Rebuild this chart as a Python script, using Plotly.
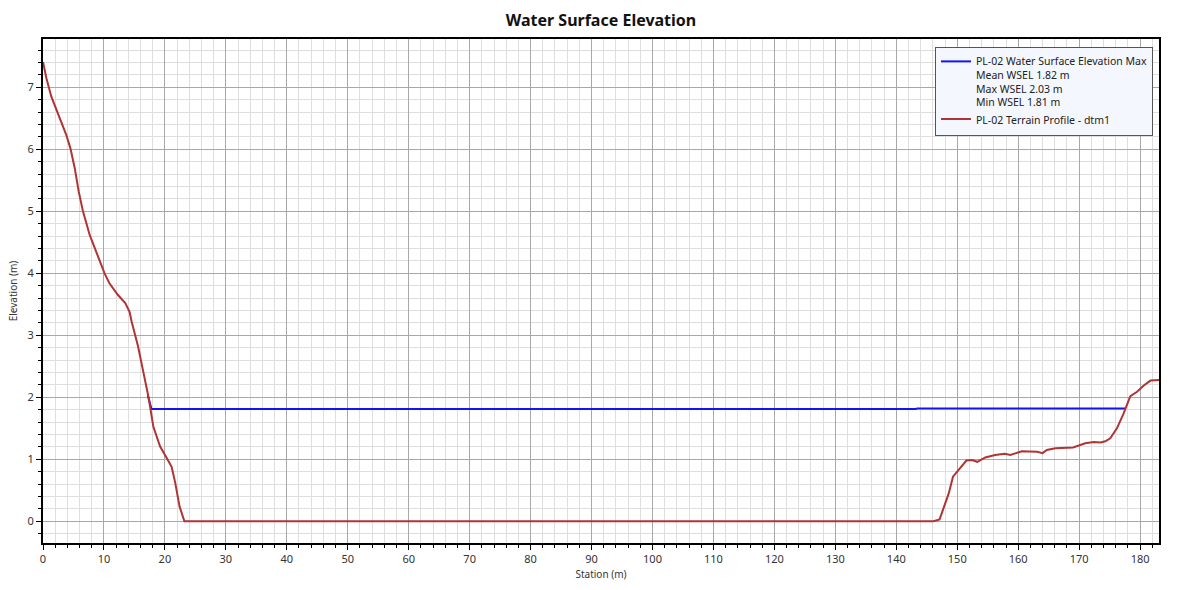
import plotly.graph_objects as go

# Terrain profile (station m, elevation m)
terrain_x = [0, 0.55, 1.37, 2.19, 3.0, 3.83, 4.49, 5.2, 5.86, 6.56, 7.66, 9.0, 10.1, 10.9,
             11.5, 12.3, 13.5, 14.2, 14.55, 15.6, 16.5, 17.3, 18.1, 19.2, 20.3, 21.1,
             21.7, 22.4, 23.2,
             146.1, 147.1, 148.0, 148.6, 149.3, 150.2,
             151.5, 152.4, 153.3, 154.6, 156.2, 157.8, 158.7, 160.6, 161.9, 163.1, 164.0,
             164.7, 166.1, 167.4, 169.0, 171.0, 172.4, 173.5, 174.3, 175.1, 176.2, 177.3,
             178.4, 179.5, 180.6, 181.7, 183.1]
terrain_y = [7.41, 7.15, 6.85, 6.64, 6.42, 6.23, 6.02, 5.70, 5.32, 5.00, 4.62, 4.27, 4.00, 3.84,
             3.76, 3.65, 3.52, 3.38, 3.22, 2.82, 2.39, 2.01, 1.53, 1.21, 1.02, 0.88,
             0.62, 0.24, 0.0,
             0.0, 0.03, 0.27, 0.45, 0.72, 0.83,
             0.98, 0.99, 0.96, 1.03, 1.07, 1.09, 1.07, 1.13, 1.13, 1.12, 1.10,
             1.15, 1.18, 1.18, 1.19, 1.26, 1.28, 1.27, 1.29, 1.34, 1.50, 1.74,
             2.02, 2.09, 2.19, 2.27, 2.28]

# Water surface elevation max
wsel_x = [17.2, 17.8, 143.2, 143.4, 177.6]
wsel_y = [2.03, 1.81, 1.81, 1.82, 1.82]

wsel_name = ("PL-02 Water Surface Elevation Max<br>Mean WSEL 1.82 m<br>"
             "Max WSEL 2.03 m<br>Min WSEL 1.81 m")
terrain_name = "PL-02 Terrain Profile - dtm1"

x_ticks = list(range(0, 181, 10))
y_ticks = list(range(0, 8))

fig = go.Figure()
fig.add_trace(go.Scatter(x=wsel_x, y=wsel_y, mode="lines", name=wsel_name,
                         line=dict(color="#1414f0", width=2)))
fig.add_trace(go.Scatter(x=terrain_x, y=terrain_y, mode="lines", name=terrain_name,
                         line=dict(color="#b03434", width=2)))

axis_common = dict(
    showline=True, linecolor="black", linewidth=2, mirror=True,
    ticks="outside", ticklen=5, tickcolor="black", tickwidth=1,
    showgrid=True, gridcolor="#a8a8a8", gridwidth=1,
    zeroline=False, automargin=False,
    tickfont=dict(size=11, color="#333333", family="Noto Sans"),
)

fig.update_xaxes(range=[0, 183.1], tickvals=x_ticks,
                 minor=dict(dtick=2, tick0=0, ticks="outside", ticklen=3, tickcolor="black",
                            showgrid=True, gridcolor="#dedede", gridwidth=1),
                 title=dict(text="Station (m)", font=dict(size=10, color="#333333"), standoff=6),
                 **axis_common)
fig.update_yaxes(range=[-0.35, 7.78], tickvals=y_ticks,
                 minor=dict(dtick=0.2, tick0=0, ticks="outside", ticklen=3, tickcolor="black",
                            showgrid=True, gridcolor="#dedede", gridwidth=1),
                 title=dict(text="Elevation (m)", font=dict(size=10, color="#333333"), standoff=8),
                 **axis_common)

fig.update_layout(
    width=1180, height=590,
    margin=dict(l=43, r=21, t=39, b=47),
    paper_bgcolor="white", plot_bgcolor="white",
    font=dict(family="Noto Sans", color="#222222"),
    title=dict(text="<b>Water Surface Elevation</b>", xref="paper", x=0.5, xanchor="center",
               y=0.966, yanchor="middle", font=dict(size=16, color="#111111")),
    showlegend=True,
    legend=dict(x=0.9946, y=0.984, xanchor="right", yanchor="top",
                bgcolor="#f4f7fd", bordercolor="#555555", borderwidth=1,
                font=dict(size=10.5, color="#222222"), valign="top",
                tracegroupgap=0, itemwidth=30),
)

fig.write_html("out.html", config={"displayModeBar": False},
               post_script="document.body.style.margin='0';document.body.style.overflow='hidden';")
